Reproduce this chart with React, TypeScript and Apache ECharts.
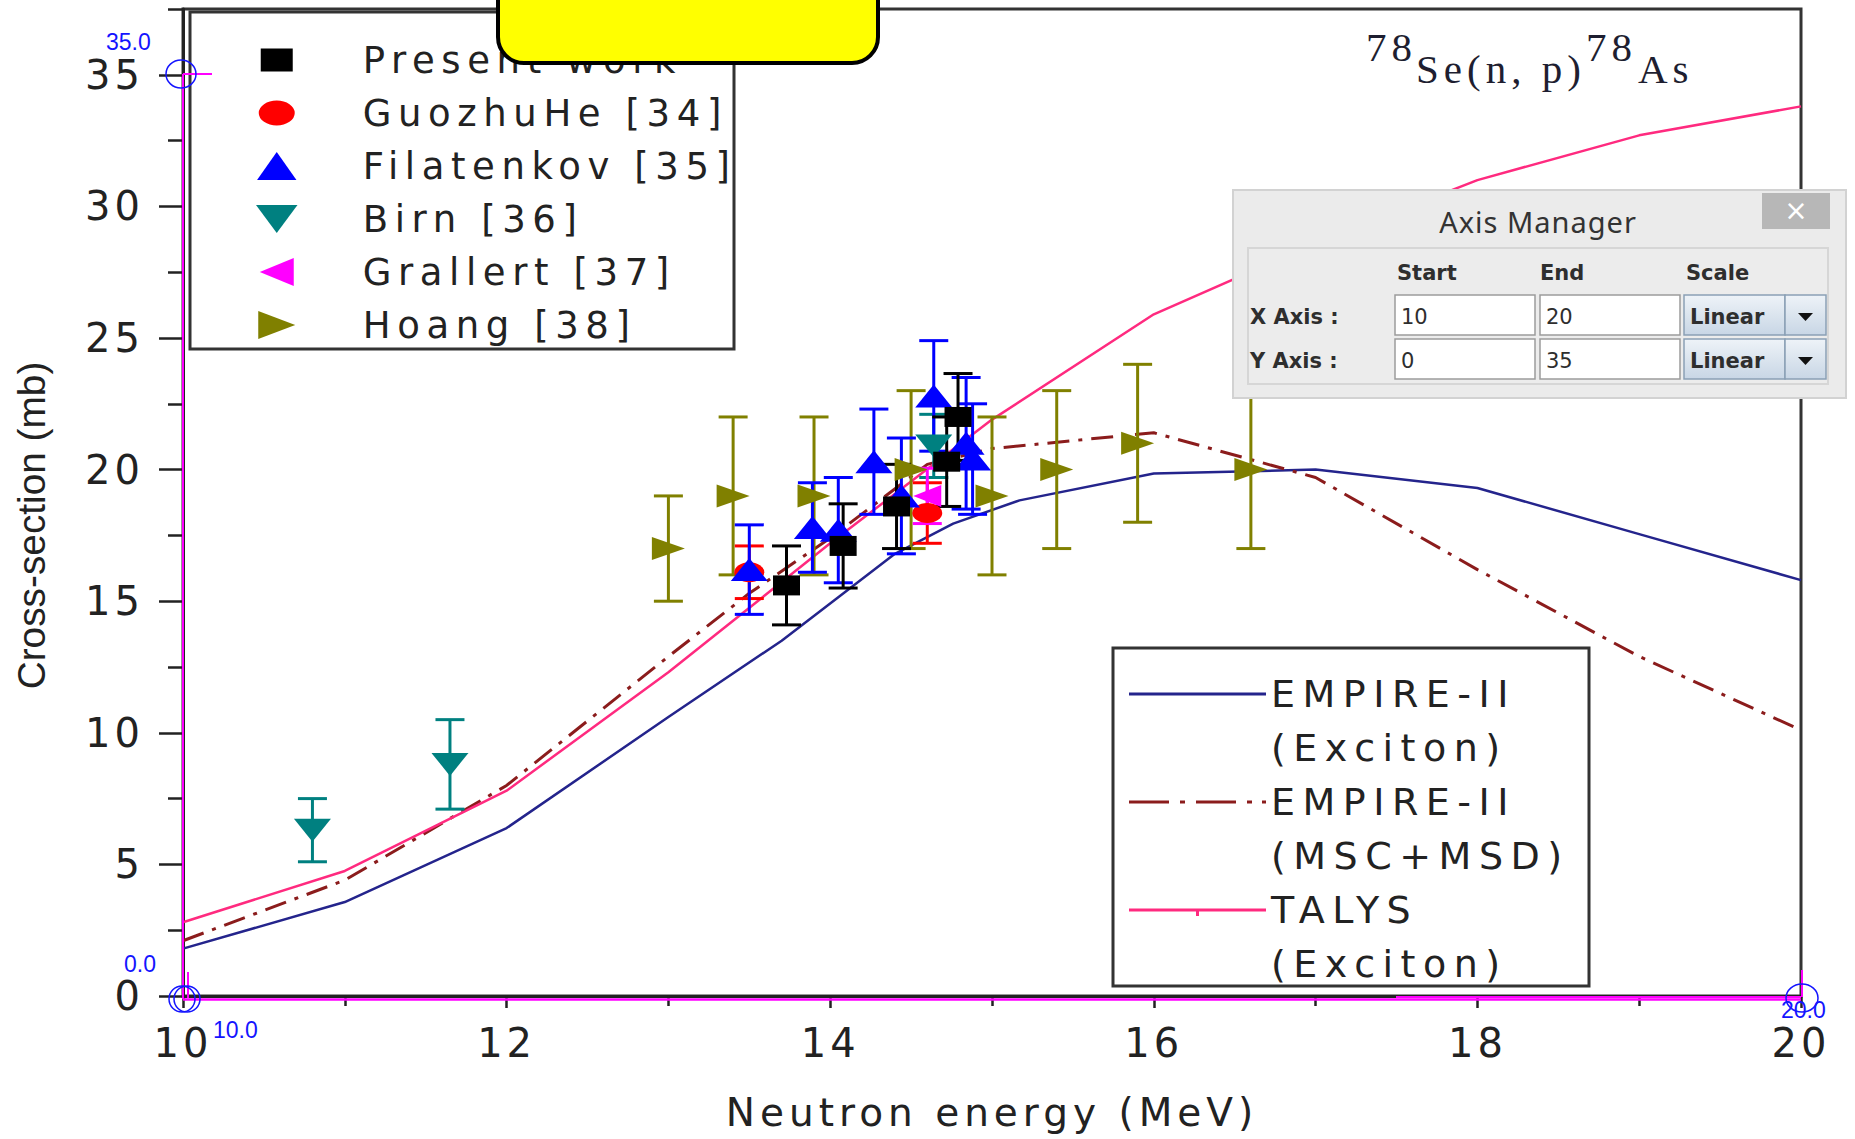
import React, { useEffect, useRef } from 'react';
import * as echarts from 'echarts';

// ---------- axis ticks ----------
const xTickInterval = 2;
const yMajorTicks = [0, 5, 10, 15, 20, 25, 30, 35];
const yMinorTicks = [2.5, 7.5, 12.5, 17.5, 22.5, 27.5, 32.5, 37.5];

// ---------- model curves (energy MeV, cross-section mb) ----------
const empireExcitonE = [10, 11, 12, 13, 13.7, 14.4, 14.76, 15.17, 16, 17, 18, 19, 20];
const empireExcitonS = [1.8, 3.57, 6.38, 10.6, 13.5, 16.8, 17.95, 18.83, 19.85, 20.0, 19.3, 17.55, 15.8];

const empireMsdE = [10, 11, 12, 13, 13.5, 14, 14.6, 15, 16, 17, 18, 19, 20];
const empireMsdS = [2.1, 4.4, 8.0, 12.9, 15.3, 17.4, 20.2, 20.8, 21.4, 19.7, 16.2, 12.9, 10.1];

const talysE = [10, 11, 12, 13, 14, 15, 16, 17, 18, 19, 20];
const talysS = [2.8, 4.75, 7.8, 12.3, 17.2, 21.9, 25.9, 28.6, 31.0, 32.7, 33.8];

// ---------- experimental data [energy, sigma, error] ----------
const presentWork = [[13.73, 15.6, 1.5], [14.08, 17.1, 1.6], [14.41, 18.6, 1.6], [14.72, 20.3, 1.7], [14.79, 22.0, 1.65]];
const guozhuHe = [[13.5, 16.1, 1.0], [14.6, 18.35, 1.15]];
const filatenkov = [[13.5, 16.2, 1.7], [13.89, 17.8, 1.7], [14.05, 17.7, 2.0], [14.27, 20.3, 2.0], [14.44, 19.0, 2.2], [14.64, 22.8, 2.1], [14.84, 21.0, 2.5], [14.88, 20.4, 2.1]];
const birn = [[10.8, 6.3, 1.2], [11.65, 8.8, 1.7], [14.64, 20.9, 1.2]];
const grallert = [[14.6, 19.0, 1.05]];
const hoang = [[13.0, 17, 2], [13.4, 19, 3], [13.9, 19, 3], [14.5, 20, 3], [15.0, 19, 3], [15.4, 20, 3], [15.9, 21, 3], [16.6, 20, 3]];

const dataNames = ['Present work', 'GuozhuHe [34]', 'Filatenkov [35]', 'Birn [36]', 'Grallert [37]', 'Hoang [38]'];
const curveNames = ['EMPIRE-II\n(Exciton)', 'EMPIRE-II\n(MSC+MSD)', 'TALYS\n(Exciton)'];

// title pieces: ^78 Se(n, p) ^78 As
const titleParts = ['78', 'Se(n, p)', '78', 'As'];

const FIG_FONT = 'DejaVu Sans';
const TXT = '#222222';

const css = `
body { margin:0; overflow:hidden; }
#chart-root text[style*="37px"] { letter-spacing: 6.6px; }
#chart-root text[style*="38px"] { letter-spacing: 7.5px; }
#chart-root text[style*="39px"] { letter-spacing: 5px; }
#chart-root text[style*="40px"] { letter-spacing: 4px; }
#chart-root text[style*="41px"] { letter-spacing: 5px; }
#chart-root text[style*="29px"] { letter-spacing: 1px; }
`;

const zip = (a: number[], b: number[]) => a.map((v, i) => [v, b[i]]);

const errRender = (color: string) => (params: any, api: any) => {
  const x = api.value(0), y = api.value(1), e = api.value(2);
  const hi = api.coord([x, y + e]);
  const lo = api.coord([x, y - e]);
  const h = 14.5;
  const st = { stroke: color, lineWidth: 3 };
  return {
    type: 'group',
    children: [
      { type: 'line', shape: { x1: hi[0], y1: hi[1], x2: lo[0], y2: lo[1] }, style: st },
      { type: 'line', shape: { x1: hi[0] - h, y1: hi[1], x2: hi[0] + h, y2: hi[1] }, style: st },
      { type: 'line', shape: { x1: lo[0] - h, y1: lo[1], x2: lo[0] + h, y2: lo[1] }, style: st },
    ],
  };
};

const pointSeries = (name: string, data: number[][], color: string, symbol: string, size: number[]) => [
  {
    name: name + ' error',
    type: 'custom',
    renderItem: errRender(color),
    encode: { x: 0, y: 1 },
    data,
    silent: true,
    z: 3,
  },
  {
    name,
    type: 'scatter',
    data: data.map((d) => [d[0], d[1]]),
    symbol,
    symbolSize: size,
    itemStyle: { color, opacity: 1 },
    z: 4,
  },
];

const bboxPts = (w: number, h: number) => `M0,0 L0.01,0 L0,0.01 Z M${w},${h} L${w - 0.01},${h} L${w},${h - 0.01} Z `;
const rectsPath = (w: number, h: number, rects: number[][]) =>
  'path://' + bboxPts(w, h) + rects.map(([x0, x1, y0, y1]) => `M${x0},${y0} L${x1},${y0} L${x1},${y1} L${x0},${y1} Z`).join(' ');

const legendPointIcons = [
  'path://' + bboxPts(32, 28) + 'M0,2.5 L32,2.5 L32,25.5 L0,25.5 Z',
  'path://' + bboxPts(36, 28) + 'M0,14 A18,12.5 0 1,1 36,14 A18,12.5 0 1,1 0,14 Z',
  'path://M19,0.5 L38,27.5 L0,27.5 Z',
  'path://M0,0.5 L40,0.5 L20,27.5 Z',
  'path://M34,0 L34,28 L0,14 Z',
  'path://M0,0 L37,14 L0,28 Z',
];

const legendCurveIcons = [
  rectsPath(137, 108, [[0, 137, 25.5, 28.5]]),
  rectsPath(137, 108, [[0, 40, 25.5, 28.5], [51, 56, 25.5, 28.5], [67, 107, 25.5, 28.5], [118, 123, 25.5, 28.5], [133, 137, 25.5, 28.5]]),
  rectsPath(137, 108, [[0, 137, 25.5, 28.5], [67, 70, 28.5, 33]]),
];

const magenta = '#ff00ff';
const calBlue = '#1414ff';
const dlgText = '#2e2e2e';

const comboFill = {
  type: 'linear', x: 0, y: 0, x2: 0, y2: 1,
  colorStops: [{ offset: 0, color: '#eef3f8' }, { offset: 1, color: '#c8d6e5' }],
};

const txt = (x: number, y: number, text: string, o: any, z = 52) => ({
  type: 'text', x, y, z,
  style: {
    text,
    fill: o.fill || dlgText,
    fontSize: o.size,
    fontFamily: o.family || FIG_FONT,
    fontWeight: o.weight || 'normal',
    align: o.align || 'left',
    textAlign: o.align || 'left',
    verticalAlign: 'middle',
    textVerticalAlign: 'middle',
  },
});

const dialogRow = (y: number, label: string, start: string, end: string) => [
  txt(1250, y + 22, label, { size: 21, weight: 'bold' }),
  { type: 'rect', z: 51, shape: { x: 1395, y, width: 140, height: 40 }, style: { fill: '#ffffff', stroke: '#9c9c9c', lineWidth: 1.5 } },
  { type: 'rect', z: 51, shape: { x: 1540, y, width: 140, height: 40 }, style: { fill: '#ffffff', stroke: '#9c9c9c', lineWidth: 1.5 } },
  txt(1401, y + 22, start, { size: 21 }),
  txt(1546, y + 22, end, { size: 21 }),
  { type: 'rect', z: 51, shape: { x: 1684, y, width: 101, height: 40 }, style: { fill: comboFill, stroke: '#8aa0b5', lineWidth: 1.5 } },
  { type: 'rect', z: 51, shape: { x: 1785, y, width: 41, height: 40 }, style: { fill: comboFill, stroke: '#8aa0b5', lineWidth: 1.5 } },
  txt(1690, y + 22, 'Linear', { size: 21, weight: 'bold' }),
  { type: 'polygon', z: 52, shape: { points: [[1798, y + 18], [1813, y + 18], [1805.5, y + 26]] }, style: { fill: '#111111' } },
];

const graphicElements: any[] = [
  // legend frames
  { type: 'rect', z: 3, shape: { x: 190, y: 12, width: 544, height: 337 }, style: { fill: '#ffffff', stroke: '#333333', lineWidth: 3 } },
  { type: 'rect', z: 3, shape: { x: 1113, y: 648, width: 476, height: 338 }, style: { fill: '#ffffff', stroke: '#333333', lineWidth: 3 } },
  // digitizer overlay
  { type: 'line', z: 40, shape: { x1: 183, y1: 74, x2: 183, y2: 999 }, style: { stroke: magenta, lineWidth: 2 } },
  { type: 'line', z: 40, shape: { x1: 183, y1: 74, x2: 212, y2: 74 }, style: { stroke: magenta, lineWidth: 2 } },
  { type: 'line', z: 40, shape: { x1: 183, y1: 999.5, x2: 1801, y2: 999.5 }, style: { stroke: magenta, lineWidth: 2.5 } },
  { type: 'line', z: 40, shape: { x1: 1396, y1: 997, x2: 1801, y2: 997 }, style: { stroke: magenta, lineWidth: 2 } },
  { type: 'line', z: 40, shape: { x1: 188, y1: 972, x2: 188, y2: 998 }, style: { stroke: magenta, lineWidth: 2 } },
  { type: 'line', z: 40, shape: { x1: 1802, y1: 970, x2: 1802, y2: 997 }, style: { stroke: magenta, lineWidth: 2 } },
  { type: 'ellipse', z: 41, shape: { cx: 181, cy: 74, rx: 15, ry: 14 }, style: { fill: 'none', stroke: calBlue, lineWidth: 1.5 } },
  { type: 'ellipse', z: 41, shape: { cx: 182, cy: 999, rx: 13, ry: 13 }, style: { fill: 'none', stroke: calBlue, lineWidth: 1.5 } },
  { type: 'ellipse', z: 41, shape: { cx: 187, cy: 999, rx: 13, ry: 13 }, style: { fill: 'none', stroke: calBlue, lineWidth: 1.5 } },
  { type: 'ellipse', z: 41, shape: { cx: 1802, cy: 998, rx: 16, ry: 14 }, style: { fill: 'none', stroke: calBlue, lineWidth: 1.5 } },
  txt(106, 42, '35.0', { size: 23, family: 'Liberation Sans', fill: calBlue }, 42),
  txt(124, 964, '0.0', { size: 23, family: 'Liberation Sans', fill: calBlue }, 42),
  txt(213, 1030, '10.0', { size: 23, family: 'Liberation Sans', fill: calBlue }, 42),
  txt(1781, 1010, '20.0', { size: 23, family: 'Liberation Sans', fill: calBlue }, 42),
  // yellow box
  { type: 'rect', z: 45, shape: { x: 498, y: -40, width: 380, height: 103, r: 26 }, style: { fill: '#ffff00', stroke: '#000000', lineWidth: 4 } },
  // Axis Manager dialog
  { type: 'rect', z: 50, shape: { x: 1233, y: 190, width: 613, height: 208 }, style: { fill: '#ebebeb', stroke: '#d2d2d2', lineWidth: 2 } },
  { type: 'rect', z: 51, shape: { x: 1762, y: 193, width: 68, height: 36 }, style: { fill: '#b7b7b7' } },
  txt(1796, 210, '×', { size: 28, fill: '#ffffff', align: 'center' }),
  txt(1538, 221, 'Axis Manager', { size: 29, family: 'Noto Sans', align: 'center', fill: '#333333' }),
  { type: 'rect', z: 51, shape: { x: 1248, y: 248, width: 580, height: 136 }, style: { fill: '#ececec', stroke: '#d6d6d6', lineWidth: 2 } },
  txt(1397, 273, 'Start', { size: 21, weight: 'bold' }),
  txt(1540, 273, 'End', { size: 21, weight: 'bold' }),
  txt(1686, 273, 'Scale', { size: 21, weight: 'bold' }),
  ...dialogRow(295, 'X Axis :', '10', '20'),
  ...dialogRow(339, 'Y Axis :', '0', '35'),
];

const titleStyle = { fontSize: 41, fontFamily: 'Liberation Serif', fontWeight: 'normal', color: '#1e1e30' };
const titleLefts = [1366, 1416, 1586, 1638];
const titleTops = [26, 48, 26, 48];

const option: any = {
  animation: false,
  backgroundColor: '#ffffff',
  title: titleParts.map((t, i) => ({
    text: t, left: titleLefts[i], top: titleTops[i], padding: 0, textStyle: titleStyle,
  })),
  grid: {
    left: 183, right: 54, top: 9, bottom: 143,
    show: true, borderColor: '#333333', borderWidth: 3,
    containLabel: false, outerBoundsMode: 'none',
  },
  xAxis: {
    type: 'value', min: 10, max: 20, interval: xTickInterval,
    axisLine: { show: true, onZero: false, lineStyle: { color: TXT, width: 3 } },
    axisTick: { show: true, length: 12, lineStyle: { color: TXT, width: 2.5 } },
    minorTick: { show: true, splitNumber: 2, length: 10, lineStyle: { color: TXT, width: 2.5 } },
    splitLine: { show: false },
    minorSplitLine: { show: false },
    axisLabel: { fontSize: 40, fontFamily: FIG_FONT, color: TXT, margin: 27, showMinLabel: true, showMaxLabel: true },
    name: 'Neutron energy (MeV)',
    nameLocation: 'middle',
    nameGap: 97,
    nameTextStyle: { fontSize: 39, fontFamily: FIG_FONT, color: TXT },
  },
  yAxis: [
    {
      type: 'value', min: 0, max: 37.5, interval: 5, position: 'left',
      axisLine: { show: true, onZero: false, lineStyle: { color: TXT, width: 3 } },
      axisTick: { show: true, length: 24, customValues: yMajorTicks, lineStyle: { color: TXT, width: 2.5 } },
      splitLine: { show: false },
      axisLabel: {
        customValues: yMajorTicks,
        fontSize: 40, fontFamily: FIG_FONT, color: TXT, margin: 39,
        formatter: (v: number) => (v % 5 === 0 ? String(v) : ''),
      },
      name: 'Cross-section (mb)',
      nameLocation: 'middle',
      nameGap: 132,
      nameTextStyle: { fontSize: 38.8, fontFamily: 'Liberation Sans', color: TXT, padding: [0, 46, 0, 0] },
    },
    {
      type: 'value', min: 0, max: 37.5, interval: 2.5, position: 'left', offset: 0,
      axisLine: { show: false },
      axisTick: { show: true, length: 15, customValues: yMinorTicks, lineStyle: { color: TXT, width: 2.5 } },
      axisLabel: { show: false },
      splitLine: { show: false },
    },
  ],
  legend: [
    {
      orient: 'vertical', left: 256, top: 41.5, padding: 0, itemGap: 16,
      itemWidth: 162, itemHeight: 28, symbolKeepAspect: true, selectedMode: false,
      itemStyle: { borderWidth: 0 },
      textStyle: { fontSize: 37, fontFamily: FIG_FONT, color: TXT, lineHeight: 37 },
      data: dataNames.map((n, i) => ({ name: n, icon: legendPointIcons[i] })),
    },
    {
      orient: 'vertical', left: 1129, top: 667, padding: 0, itemGap: 0,
      itemWidth: 137, itemHeight: 108, symbolKeepAspect: false, selectedMode: false,
      itemStyle: { borderWidth: 0 },
      textStyle: { fontSize: 38, fontFamily: FIG_FONT, color: TXT, lineHeight: 54 },
      data: curveNames.map((n, i) => ({ name: n, icon: legendCurveIcons[i] })),
    },
  ],
  series: [
    {
      name: curveNames[0], type: 'line', data: zip(empireExcitonE, empireExcitonS),
      color: '#24248c', symbol: 'none', showSymbol: false,
      lineStyle: { color: '#24248c', width: 2.5 }, itemStyle: { color: '#24248c' }, z: 2,
    },
    {
      name: curveNames[1], type: 'line', data: zip(empireMsdE, empireMsdS),
      color: '#8b1c1c', symbol: 'none', showSymbol: false,
      lineStyle: { color: '#8b1c1c', width: 3, type: [22, 9, 4, 9] }, itemStyle: { color: '#8b1c1c' }, z: 2,
    },
    {
      name: curveNames[2], type: 'line', data: zip(talysE, talysS),
      color: '#ff2a7f', symbol: 'none', showSymbol: false,
      lineStyle: { color: '#ff2a7f', width: 2.5 }, itemStyle: { color: '#ff2a7f' }, z: 2,
    },
    ...pointSeries(dataNames[5], hoang, '#808000', 'path://M0,0 L10,5 L0,10 Z', [33, 23]),
    ...pointSeries(dataNames[3], birn, '#008080', 'path://M0,0 L10,0 L5,10 Z', [37, 23]),
    ...pointSeries(dataNames[1], guozhuHe, '#ff0000', 'path://M0,10 A15,10 0 1,1 30,10 A15,10 0 1,1 0,10 Z', [30, 20]),
    ...pointSeries(dataNames[4], grallert, '#ff00ff', 'path://M10,0 L10,10 L0,5 Z', [28, 22]),
    ...pointSeries(dataNames[2], filatenkov, '#0000ff', 'triangle', [37, 23]),
    ...pointSeries(dataNames[0], presentWork, '#000000', 'rect', [27, 20]),
  ],
  graphic: { elements: graphicElements },
};

export default function App() {
  const ref = useRef<HTMLDivElement>(null);
  useEffect(() => {
    if (!ref.current) return;
    const chart = echarts.init(ref.current, null, { renderer: 'svg' });
    chart.setOption(option);
    return () => chart.dispose();
  }, []);
  return (
    <>
      <style>{css}</style>
      <div
        id="chart-root"
        ref={ref}
        style={{ position: 'absolute', left: 0, top: 0, width: 1855, height: 1139, background: '#ffffff' }}
      />
    </>
  );
}
